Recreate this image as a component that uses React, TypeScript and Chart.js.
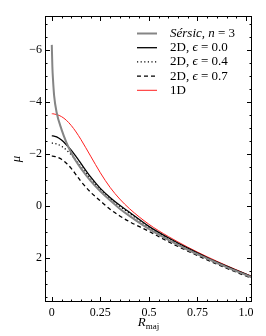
import React, { useEffect, useRef } from "react";
import { Chart, registerables } from "chart.js";

Chart.register(...registerables);

const radii = [0, 0.003, 0.006, 0.012, 0.025, 0.05, 0.075, 0.1, 0.125, 0.15, 0.2, 0.25, 0.3, 0.35, 0.4, 0.5, 0.6, 0.7, 0.8, 0.9, 1.0, 1.05];
const sersic = [-6.2, -5.35, -4.9, -4.25, -3.6, -2.95, -2.45, -2.05, -1.72, -1.45, -0.97, -0.57, -0.22, 0.1, 0.38, 0.88, 1.3, 1.68, 2.02, 2.35, 2.65, 2.8];
const eps00 = [-2.7, -2.7, -2.7, -2.69, -2.66, -2.54, -2.36, -2.15, -1.9, -1.64, -1.12, -0.68, -0.33, -0.03, 0.24, 0.78, 1.22, 1.62, 1.98, 2.31, 2.62, 2.77];
const eps04 = [-2.42, -2.42, -2.42, -2.41, -2.39, -2.3, -2.16, -1.98, -1.76, -1.52, -1.04, -0.63, -0.29, 0.01, 0.28, 0.81, 1.25, 1.65, 2.0, 2.33, 2.64, 2.79];
const eps07 = [-1.92, -1.92, -1.92, -1.91, -1.89, -1.8, -1.65, -1.45, -1.2, -0.95, -0.53, -0.2, 0.12, 0.38, 0.6, 0.97, 1.37, 1.73, 2.07, 2.39, 2.69, 2.83];
const oneD = [-3.55, -3.55, -3.55, -3.54, -3.52, -3.44, -3.3, -3.1, -2.85, -2.56, -1.92, -1.28, -0.72, -0.27, 0.1, 0.7, 1.17, 1.58, 1.95, 2.29, 2.61, 2.76];

const xMajorTicks = [0, 0.25, 0.5, 0.75, 1.0];
const xTickLabels = ["0", "0.25", "0.5", "0.75", "1.0"];
const yMajorTicks = [-6, -4, -2, 0, 2];
const yTickLabels = ["\u22126", "\u22124", "\u22122", "0", "2"];

const X_MIN = -0.035, X_MAX = 1.031, Y_MIN = -7.31, Y_MAX = 3.69;
const SERIF = "'Liberation Serif', 'DejaVu Serif', serif";

const legendItems = [
  { color: "#858585", width: 2, dash: [] as number[], parts: [["Sérsic, n", true], [" = 3", false]] },
  { color: "#000000", width: 1.3, dash: [] as number[], parts: [["2D, ", false], ["ϵ", true], [" = 0.0", false]] },
  { color: "#000000", width: 1.3, dash: [1.2, 2.4], parts: [["2D, ", false], ["ϵ", true], [" = 0.4", false]] },
  { color: "#000000", width: 1.3, dash: [4, 3], parts: [["2D, ", false], ["ϵ", true], [" = 0.7", false]] },
  { color: "#ff2020", width: 1, dash: [] as number[], parts: [["1D", false]] },
];

const decorPlugin = {
  id: "decor",
  afterDraw(chart: any) {
    const ctx = chart.ctx as CanvasRenderingContext2D;
    const { left, right, top, bottom } = chart.chartArea;
    const xs = chart.scales.x, ys = chart.scales.y;
    ctx.save();
    ctx.strokeStyle = "#000";
    ctx.lineWidth = 1;
    ctx.strokeRect(left + 0.5, top + 0.5, right - left - 1, bottom - top - 1);
    const drawX = (v: number, len: number) => {
      const px = Math.round(xs.getPixelForValue(v)) + 0.5;
      ctx.beginPath();
      ctx.moveTo(px, bottom); ctx.lineTo(px, bottom - len);
      ctx.moveTo(px, top); ctx.lineTo(px, top + len);
      ctx.stroke();
    };
    for (let i = 0; i <= 20; i++) {
      const v = i * 0.05;
      const major = i % 5 === 0;
      drawX(v, major ? 5 : 2.5);
    }
    const drawY = (v: number, len: number) => {
      const py = Math.round(ys.getPixelForValue(v)) + 0.5;
      ctx.beginPath();
      ctx.moveTo(left, py); ctx.lineTo(left + len, py);
      ctx.moveTo(right, py); ctx.lineTo(right - len, py);
      ctx.stroke();
    };
    for (let v = -7; v <= 3.5; v += 0.5) {
      const major = Math.abs(v % 2) < 1e-9;
      drawY(v, major ? 5 : 2.5);
    }
    ctx.fillStyle = "#000";
    ctx.font = `12px ${SERIF}`;
    ctx.textAlign = "center";
    ctx.textBaseline = "top";
    xMajorTicks.forEach((v, i) => {
      ctx.fillText(xTickLabels[i], xs.getPixelForValue(v), bottom + 5);
    });
    ctx.textAlign = "right";
    ctx.textBaseline = "middle";
    yMajorTicks.forEach((v, i) => {
      ctx.fillText(yTickLabels[i], left - 3, ys.getPixelForValue(v));
    });
    ctx.save();
    ctx.translate(17, (top + bottom) / 2);
    ctx.rotate(-Math.PI / 2);
    ctx.font = `italic 13px ${SERIF}`;
    ctx.textAlign = "center";
    ctx.textBaseline = "middle";
    ctx.fillText("μ", 0, 0);
    ctx.restore();
    ctx.textAlign = "left";
    ctx.textBaseline = "alphabetic";
    ctx.font = `italic 13px ${SERIF}`;
    const rw = ctx.measureText("R").width;
    ctx.font = `9px ${SERIF}`;
    const sw = ctx.measureText("maj").width;
    const cx = (left + right) / 2 - (rw + sw) / 2;
    ctx.font = `italic 13px ${SERIF}`;
    ctx.fillText("R", cx, 326);
    ctx.font = `9px ${SERIF}`;
    ctx.fillText("maj", cx + rw, 329);
    legendItems.forEach((it, i) => {
      const y = 33.5 + i * 14.2;
      ctx.save();
      ctx.strokeStyle = it.color;
      ctx.lineWidth = it.width;
      ctx.setLineDash(it.dash);
      ctx.beginPath();
      ctx.moveTo(137, y); ctx.lineTo(157, y);
      ctx.stroke();
      ctx.restore();
      let x = 170;
      ctx.textBaseline = "middle";
      ctx.fillStyle = "#000";
      (it.parts as any[]).forEach(([t, ital]) => {
        ctx.font = `${ital ? "italic " : ""}13px ${SERIF}`;
        ctx.fillText(t, x, y);
        x += ctx.measureText(t).width;
      });
    });
    ctx.restore();
  },
};

export default function App() {
  const ref = useRef<HTMLCanvasElement | null>(null);
  useEffect(() => {
    document.body.style.margin = "0";
    const mk = (d: number[]) => d.map((y, i) => ({ x: radii[i], y }));
    const chart = new Chart(ref.current!, {
      type: "line",
      data: {
        datasets: [
          { label: "Sérsic", data: mk(sersic), borderColor: "#858585", borderWidth: 2 },
          { label: "2D 0.0", data: mk(eps00), borderColor: "#000", borderWidth: 1.3 },
          { label: "2D 0.4", data: mk(eps04), borderColor: "#000", borderWidth: 1.3, borderDash: [1.2, 2.4] },
          { label: "2D 0.7", data: mk(eps07), borderColor: "#000", borderWidth: 1.3, borderDash: [4, 3] },
          { label: "1D", data: mk(oneD), borderColor: "#ff2020", borderWidth: 1 },
        ].map((d) => ({ ...d, pointRadius: 0, fill: false, cubicInterpolationMode: "monotone" as const })),
      },
      options: {
        animation: false,
        responsive: false,
        devicePixelRatio: 1,
        layout: { padding: { left: 45, right: 14, top: 16, bottom: 34 } },
        plugins: { legend: { display: false }, tooltip: { enabled: false } },
        scales: {
          x: { type: "linear", min: X_MIN, max: X_MAX, display: false },
          y: { type: "linear", min: Y_MIN, max: Y_MAX, reverse: true, display: false },
        },
      },
      plugins: [decorPlugin],
    });
    return () => chart.destroy();
  }, []);
  return (
    <div style={{ position: "absolute", left: 0, top: 0, width: 266, height: 336, background: "#fff" }}>
      <canvas ref={ref} width={266} height={336} />
    </div>
  );
}
